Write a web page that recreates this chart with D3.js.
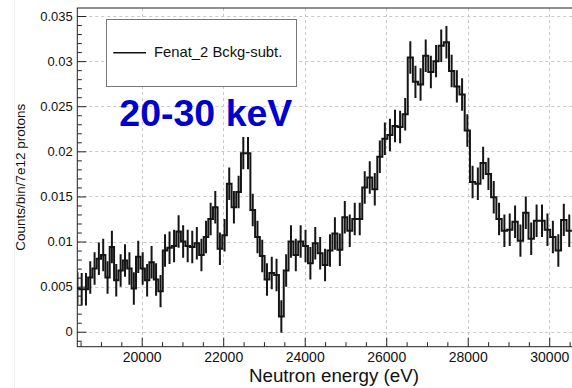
<!DOCTYPE html>
<html>
<head>
<meta charset="utf-8">
<script src="https://cdn.jsdelivr.net/npm/d3@7"></script>
<style>
  body { margin: 0; background: #fff; }
  svg { display: block; }
  text { font-family: "Liberation Sans", Arial, Helvetica, sans-serif; }
</style>
</head>
<body>
<svg id="chart" width="572" height="388"></svg>
<script>
// Histogram binning: bins are uniform in sqrt(E), starting at this lower edge (eV)
const binLowEdge = 18371;
const binSqrtStep = 0.385;

// Background-subtracted counts per bin per 7e12 protons
const counts = [
  0.0048, 0.0047, 0.0047, 0.0060, 0.0070, 0.0081, 0.0085, 0.0060, 0.0094, 0.0057,
  0.0068, 0.0079, 0.0070, 0.0048, 0.0083, 0.0070, 0.0057, 0.0077, 0.0058, 0.0045,
  0.0090, 0.0093, 0.0095, 0.0111, 0.0100, 0.0095, 0.0094, 0.0098, 0.0085, 0.0105,
  0.0125, 0.0138, 0.0092, 0.0107, 0.0164, 0.0138, 0.0155, 0.0198, 0.0198, 0.0135,
  0.0105, 0.0084, 0.0058, 0.0065, 0.0063, 0.0017, 0.0068, 0.0100, 0.0085, 0.0100,
  0.0095, 0.0076, 0.0098, 0.0087, 0.0074, 0.0090, 0.0109, 0.0091, 0.0127, 0.0112,
  0.0125, 0.0125, 0.0160, 0.0171, 0.0158, 0.0194, 0.0214, 0.0218, 0.0228, 0.0227,
  0.0241, 0.0304, 0.0277, 0.0274, 0.0306, 0.0288, 0.0300, 0.0317, 0.0321, 0.0289,
  0.0272, 0.0263, 0.0223, 0.0166, 0.0164, 0.0187, 0.0175, 0.0149, 0.0125, 0.0112,
  0.0113, 0.0122, 0.0101, 0.0132, 0.0103, 0.0123, 0.0123, 0.0113, 0.0105, 0.0090,
  0.0124, 0.0112
];
// Statistical uncertainty on each bin
const countError = 0.0018;

const xRange = [18420, 31000];
const yRange = [-0.00166, 0.03589];
const xTickValues = [20000, 22000, 24000, 26000, 28000, 30000];
const xTickLabels = ["20000", "22000", "24000", "26000", "28000", "30000"];
const yTickValues = [0, 0.005, 0.01, 0.015, 0.02, 0.025, 0.03, 0.035];
const yTickLabels = ["0", "0.005", "0.01", "0.015", "0.02", "0.025", "0.03", "0.035"];
const xTitle = "Neutron energy (eV)";
const yTitle = "Counts/bin/7e12 protons";
const legendLabel = "Fenat_2 Bckg-subt.";
const energyBandLabel = "20-30 keV";

const frame = { left: 77.3, right: 590, top: 8, bottom: 346.7 };
const svg = d3.select("#chart");

const x = d3.scaleLinear().domain(xRange).range([frame.left, frame.right]);
const y = d3.scaleLinear().domain(yRange).range([frame.bottom, frame.top]);

// faint pad edge
svg.append("line").attr("x1", 14.5).attr("x2", 14.5).attr("y1", 0).attr("y2", 388)
  .attr("stroke", "#efefef").attr("stroke-width", 1);

// grid
const grid = svg.append("g").attr("stroke", "#c8c8c8").attr("stroke-width", 1)
  .attr("stroke-dasharray", "3,3").attr("fill", "none");
grid.selectAll("line.gx").data(xTickValues).join("line")
  .attr("x1", d => Math.round(x(d)) + 0.5).attr("x2", d => Math.round(x(d)) + 0.5)
  .attr("y1", frame.top).attr("y2", frame.bottom);
grid.selectAll("line.gy").data(yTickValues).join("line")
  .attr("y1", d => Math.round(y(d)) + 0.5).attr("y2", d => Math.round(y(d)) + 0.5)
  .attr("x1", frame.left).attr("x2", frame.right);

// histogram bins
const s0 = Math.sqrt(binLowEdge);
const bins = counts.map((v, i) => {
  const lo = Math.pow(s0 + i * binSqrtStep, 2);
  const hi = Math.pow(s0 + (i + 1) * binSqrtStep, 2);
  return { lo, hi, mid: (lo + hi) / 2, v };
});

svg.append("clipPath").attr("id", "plotClip").append("rect")
  .attr("x", frame.left).attr("y", frame.top)
  .attr("width", frame.right - frame.left).attr("height", frame.bottom - frame.top);

const plot = svg.append("g").attr("clip-path", "url(#plotClip)");

const stepPoints = bins.map(b => [b.lo, b.v]);
stepPoints.push([bins[bins.length - 1].hi, bins[bins.length - 1].v]);
const stepLine = d3.line().x(d => x(d[0])).y(d => y(d[1])).curve(d3.curveStepAfter);
plot.append("path").attr("d", stepLine(stepPoints))
  .attr("fill", "none").attr("stroke", "#151515").attr("stroke-width", 2);

plot.selectAll("line.err").data(bins).join("line").attr("class", "err")
  .attr("x1", d => x(d.mid)).attr("x2", d => x(d.mid))
  .attr("y1", d => y(d.v - countError)).attr("y2", d => y(d.v + countError))
  .attr("stroke", "#151515").attr("stroke-width", 2);

// frame
svg.append("rect").attr("x", frame.left).attr("y", frame.top)
  .attr("width", frame.right - frame.left).attr("height", frame.bottom - frame.top)
  .attr("fill", "none").attr("stroke", "#222").attr("stroke-width", 1);

// x axis (ticks pointing into the frame)
const xMinor = d3.range(18500, 31000, 500).filter(v => !xTickValues.includes(v));
svg.append("g").attr("transform", `translate(0,${frame.bottom})`)
  .call(d3.axisBottom(x).tickValues(xMinor).tickFormat("").tickSizeInner(-4.5).tickSizeOuter(0))
  .call(g => g.select(".domain").remove())
  .call(g => g.selectAll("line").attr("stroke", "#222"));
svg.append("g").attr("transform", `translate(0,${frame.bottom})`)
  .call(d3.axisBottom(x).tickValues(xTickValues).tickFormat((d, i) => xTickLabels[i])
    .tickSizeInner(-9).tickSizeOuter(0).tickPadding(4.9))
  .call(g => g.select(".domain").remove())
  .call(g => g.selectAll("line").attr("stroke", "#222"))
  .call(g => g.selectAll("text").attr("font-size", 14).attr("fill", "#111")
    .style("font-family", '"Liberation Sans", Arial, sans-serif'));

// y axis
const yMinor = d3.range(-1, 36).map(k => k / 1000).filter(v => !yTickValues.some(t => Math.abs(t - v) < 1e-9));
svg.append("g").attr("transform", `translate(${frame.left},0)`)
  .call(d3.axisLeft(y).tickValues(yMinor).tickFormat("").tickSizeInner(-4.5).tickSizeOuter(0))
  .call(g => g.select(".domain").remove())
  .call(g => g.selectAll("line").attr("stroke", "#222"));
svg.append("g").attr("transform", `translate(${frame.left},0)`)
  .call(d3.axisLeft(y).tickValues(yTickValues).tickFormat((d, i) => yTickLabels[i])
    .tickSizeInner(-9).tickSizeOuter(0).tickPadding(4.6))
  .call(g => g.select(".domain").remove())
  .call(g => g.selectAll("line").attr("stroke", "#222"))
  .call(g => g.selectAll("text").attr("font-size", 13).attr("fill", "#111")
    .style("font-family", '"Liberation Sans", Arial, sans-serif'));

// axis titles
svg.append("text").attr("x", 334).attr("y", 381.7).attr("text-anchor", "middle")
  .attr("font-size", 18.8).attr("fill", "#111").text(xTitle);
svg.append("text").attr("transform", "translate(24.7,177.3) rotate(-90)")
  .attr("text-anchor", "middle").attr("font-size", 13.5).attr("fill", "#111").text(yTitle);

// legend
const legend = svg.append("g");
legend.append("rect").attr("x", 106.5).attr("y", 19.5).attr("width", 190).attr("height", 67)
  .attr("fill", "#fff").attr("stroke", "#777").attr("stroke-width", 1);
legend.append("line").attr("x1", 113.3).attr("x2", 146).attr("y1", 52.7).attr("y2", 52.7)
  .attr("stroke", "#111").attr("stroke-width", 1.6);
legend.append("text").attr("x", 154).attr("y", 57.3).attr("font-size", 14.8)
  .attr("fill", "#111").text(legendLabel);

// energy band label
svg.append("text").attr("x", 119.3).attr("y", 126).attr("font-size", 37.5)
  .attr("font-weight", "bold").attr("fill", "#0000cc").text(energyBandLabel);
</script>
</body>
</html>
